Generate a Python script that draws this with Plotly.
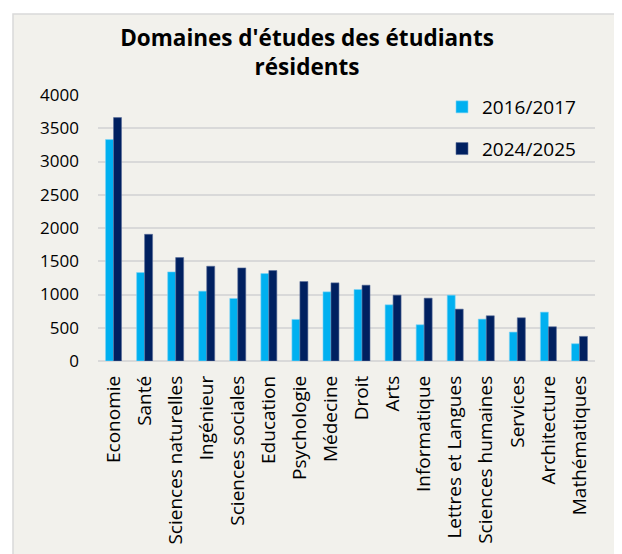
import plotly.graph_objects as go

categories = ["Economie", "Santé", "Sciences naturelles", "Ingénieur", "Sciences sociales",
              "Education", "Psychologie", "Médecine", "Droit", "Arts", "Informatique",
              "Lettres et Langues", "Sciences humaines", "Services", "Architecture", "Mathématiques"]
values_2016 = [3330, 1330, 1340, 1050, 940, 1315, 625, 1040, 1075, 845, 545, 990, 630, 435, 735, 260]
values_2024 = [3660, 1905, 1555, 1425, 1400, 1360, 1195, 1175, 1140, 990, 945, 780, 680, 650, 515, 370]
series_names = ["2016/2017", "2024/2025"]
y_ticks = [0, 500, 1000, 1500, 2000, 2500, 3000, 3500, 4000]

LIGHT = "#00B0F0"
DARK = "#002060"
BG = "#F2F1EC"
FONT = "Open Sans"

fig = go.Figure()
fig.add_trace(go.Bar(x=categories, y=values_2016, name=series_names[0], legendgroup="a",
                     marker=dict(color=LIGHT, line=dict(color="#7FD3F5", width=0.6))))
fig.add_trace(go.Bar(x=categories, y=values_2024, name=series_names[1], legendgroup="b",
                     marker=dict(color=DARK, line=dict(color="#5A6E9A", width=0.6))))

OFF = 8  # default page body margin
W, H = 622 - OFF, 554 - OFF
L, R, T, B = 98 - OFF, 27, 95 - OFF, 193
pw, ph = W - L - R, H - T - B

def px2x(p):
    return (p - OFF - L) / pw

def py2y(p):
    return (H + OFF - B - p) / ph

fig.add_shape(type="rect", xref="paper", yref="paper",
              x0=px2x(13), x1=px2x(620), y0=py2y(14), y1=py2y(570),
              fillcolor=BG, line=dict(color="#D9D9D9", width=1.5), layer="below")

fig.update_layout(
    width=W, height=H,
    margin=dict(l=L, r=R, t=T, b=B, autoexpand=False),
    paper_bgcolor="white",
    plot_bgcolor="rgba(0,0,0,0)",
    barmode="group",
    bargap=0.485,
    bargroupgap=0,
    showlegend=True,
    legend=dict(x=px2x(442), y=py2y(88), xanchor="left", yanchor="top",
                bgcolor="rgba(0,0,0,0)", font=dict(family=FONT, size=19, color="#000"),
                traceorder="grouped", tracegroupgap=14, itemwidth=30),
    font=dict(family=FONT, color="#000"),
    title=dict(text="<b>Domaines d'études des étudiants<br>résidents</b>",
               xref="container", yref="container",
               x=(307 - OFF) / W, xanchor="center", y=1 - (46 - OFF) / H, yanchor="top",
               font=dict(family=FONT, size=22.5, color="#000")),
    xaxis=dict(tickangle=-90, tickfont=dict(family=FONT, size=19, color="#000"),
               showgrid=False, showline=False, ticks="", ticklen=0, ticklabelstandoff=10,
               automargin=False),
    yaxis=dict(range=[0, 4000], tickvals=y_ticks, ticktext=[str(v) for v in y_ticks],
               tickfont=dict(family=FONT, size=17, color="#000"),
               showgrid=True, gridcolor="#D9D9D9", gridwidth=1.5,
               zeroline=True, zerolinecolor="#D9D9D9", zerolinewidth=1.5,
               ticks="", ticklabelstandoff=18, automargin=False),
)

fig.write_html("out.html")
